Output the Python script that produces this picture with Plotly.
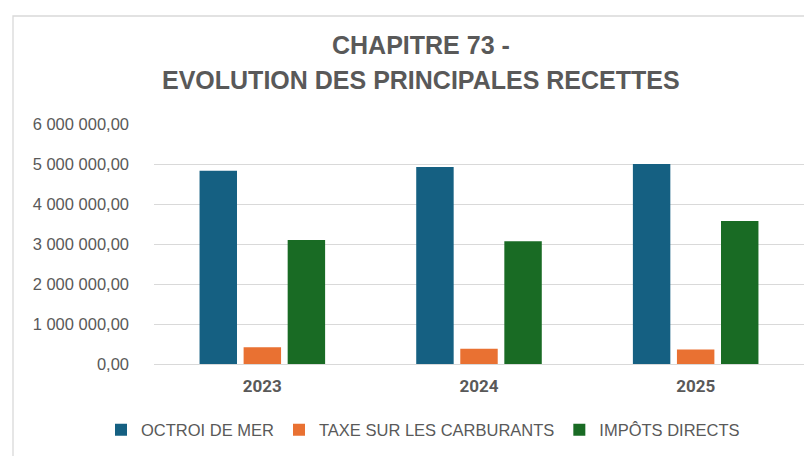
import plotly.graph_objects as go

years = ["2023", "2024", "2025"]
octroi = [4830000, 4925000, 5000000]
taxe = [420000, 380000, 360000]
impots = [3100000, 3070000, 3575000]
series_names = ["OCTROI DE MER", "TAXE SUR LES CARBURANTS", "IMPÔTS DIRECTS"]
colors = ["#156082", "#E97132", "#196B24"]
title_lines = ["CHAPITRE 73 -", "EVOLUTION DES PRINCIPALES RECETTES"]

W, H = 804, 456
L, R, T, B = 154, 0, 124, 92
pw, ph = W - L - R, H - T - B

fig = go.Figure()
for name, vals, c in zip(series_names, [octroi, taxe, impots], colors):
    fig.add_trace(go.Bar(x=years, y=vals, name=name, marker=dict(color=c, line=dict(width=0))))

font_fam = "Liberation Sans, Arial, sans-serif"
cat_fam = "Roboto, Liberation Sans, Arial, sans-serif"

fig.update_layout(
    width=W, height=H,
    margin=dict(l=L, r=R, t=T, b=B, pad=0),
    paper_bgcolor="white", plot_bgcolor="white",
    separators=", ",
    barmode="group", bargap=0.39, bargroupgap=0.15,
    font=dict(family=font_fam, color="#595959", size=16),
    showlegend=True,
    legend=dict(orientation="h", x=(423 - L) / pw, xanchor="center", y=-(430 - (H - B)) / ph, yanchor="middle",
                font=dict(size=16.5, color="#595959", family=font_fam), traceorder="normal", itemwidth=30),
    xaxis=dict(showgrid=False, showline=False, ticks="",
               tickfont=dict(size=17, color="#595959", family=cat_fam, weight="bold"),
               ticklabelstandoff=10),
    yaxis=dict(range=[0, 6000000], dtick=1000000, tickformat=",.2f", showgrid=True, gridcolor="#D9D9D9",
               gridwidth=1.3, zeroline=True, zerolinecolor="#D9D9D9", zerolinewidth=1.3,
               showline=False, ticks="", ticklabelstandoff=24,
               tickfont=dict(size=16.5, color="#595959", family=font_fam)),
)

for txt, yc in zip(title_lines, [45, 80]):
    fig.add_annotation(text="<b>" + txt + "</b>", xref="paper", yref="paper",
                       x=(421 - L) / pw, y=(H - B - yc) / ph, xanchor="center", yanchor="middle",
                       showarrow=False, font=dict(size=25, color="#595959", family=font_fam))

fig.add_shape(type="rect", xref="paper", yref="paper",
              x0=(13 - L) / pw, x1=(W + 20 - L) / pw, y0=-(H + 20 - (H - B)) / ph, y1=(H - B - 16) / ph,
              line=dict(color="#D9D9D9", width=1.3), fillcolor="rgba(0,0,0,0)", layer="below")

fig.write_html("out.html", post_script="document.body.style.margin='0';",
               config={"displayModeBar": False})
